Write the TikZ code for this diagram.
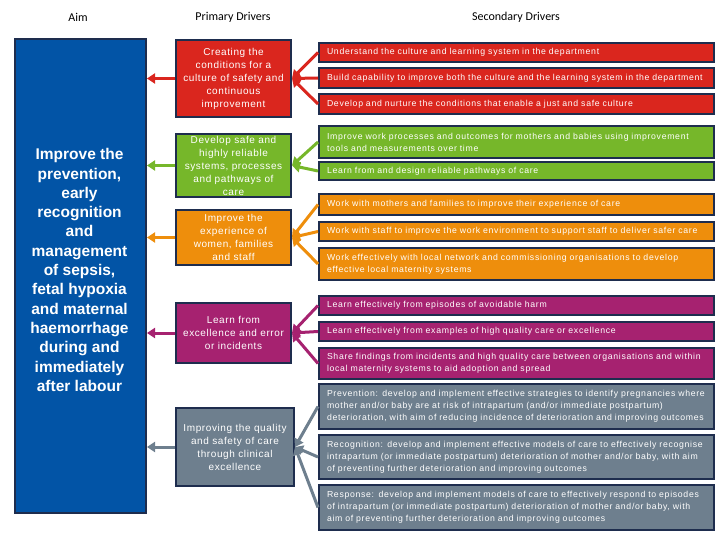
\documentclass[tikz,border=0pt]{standalone}
\usepackage{fontspec}
\setmainfont{Liberation Sans}
\newfontfamily\headfont{Carlito}
\newfontfamily\primfont[LetterSpace=6]{Liberation Sans}
\newfontfamily\secfont[LetterSpace=8]{Liberation Sans}
\usetikzlibrary{arrows.meta}

\definecolor{aimblue}{RGB}{2,84,166}
\definecolor{edgeblue}{RGB}{30,45,78}
\definecolor{drvred}{RGB}{218,38,30}
\definecolor{drvgreen}{RGB}{118,183,42}
\definecolor{drvorange}{RGB}{238,142,12}
\definecolor{drvpurple}{RGB}{166,34,112}
\definecolor{drvgrey}{RGB}{110,127,142}

\tikzset{
  head/.style = {font=\headfont\fontsize{12}{14}\selectfont},
  prim/.style = {draw=edgeblue, line width=2pt, fill=#1, text=white,
                 anchor=north west, align=center, inner sep=1pt,
                 minimum width=115pt,
                 font=\primfont\fontsize{10}{13}\selectfont},
  sec/.style  = {draw=edgeblue, line width=2pt, fill=#1, text=white,
                 anchor=north west, align=left, inner xsep=8pt, inner ysep=1pt,
                 text width=379pt,
                 font=\secfont\fontsize{8.7}{12}\selectfont},
  link/.style = {draw=#1, line width=3pt, -{Triangle[length=8pt,width=10pt]}}
}

\begin{document}
\begin{tikzpicture}[x=1pt, y=-1pt]
	\useasboundingbox (0,0) rectangle (720,540);
	\def \px{175} % primary drivers
	\def \sx{318} % secondary drivers

	% Headings
	\node[head] (hAim) at (78,17) {Aim};
	\node[head] (hPrim) at (233,17) {Primary Drivers};
	\node[head] (hSec) at (516,17) {Secondary Drivers};

	% Aim
	\node[draw=edgeblue, line width=2pt, fill=aimblue, anchor=north west,
	      minimum width=131pt, minimum height=474pt] (aim) at (14,38) {};
	\node[text=white, align=center, font=\bfseries\fontsize{15.5}{19.3}\selectfont]
	      (aimtxt) at (79.5,270) {Improve the\\prevention,\\early\\recognition\\and\\management\\of sepsis,\\fetal hypoxia\\and maternal\\haemorrhage\\during and\\immediately\\after labour};

	% Primary drivers
	\node[prim=drvred, minimum height=77pt] (p1) at (\px,39) {Creating the\\conditions for a\\culture of safety and\\continuous\\improvement};
	\node[prim=drvgreen, minimum height=63pt] (p2) at (\px,133) {Develop safe and\\highly reliable\\systems, processes\\and pathways of\\care};
	\node[prim=drvorange, minimum height=55pt] (p3) at (\px,209) {Improve the\\experience of\\women, families\\and staff};
	\node[prim=drvpurple, minimum height=60pt] (p4) at (\px,302) {Learn from\\excellence and error\\or incidents};
	\node[prim=drvgrey, minimum height=78pt, minimum width=118pt] (p5) at (\px,407) {Improving the quality\\and safety of care\\through clinical\\excellence};

	% Secondary drivers
	\node[sec=drvred, minimum height=19pt] (s11) at (\sx,42) {Understand the culture and learning system in the department};
	\node[sec=drvred, minimum height=20pt] (s12) at (\sx,67) {Build capability to improve both the culture and the learning system in the department};
	\node[sec=drvred, minimum height=20pt] (s13) at (\sx,93) {Develop and nurture the conditions that enable a just and safe culture};

	\node[sec=drvgreen, minimum height=32pt] (s21) at (\sx,125) {Improve work processes and outcomes for mothers and babies using improvement\\tools and measurements over time};
	\node[sec=drvgreen, minimum height=18pt] (s22) at (\sx,161) {Learn from and design reliable pathways of care};

	\node[sec=drvorange, minimum height=21pt] (s31) at (\sx,193) {Work with mothers and families to improve their experience of care};
	\node[sec=drvorange, minimum height=19pt] (s32) at (\sx,221) {Work with staff to improve the work environment to support staff to deliver safer care};
	\node[sec=drvorange, minimum height=32pt] (s33) at (\sx,247) {Work effectively with local network and commissioning organisations to develop\\effective local maternity systems};

	\node[sec=drvpurple, minimum height=19pt] (s41) at (\sx,295) {Learn effectively from episodes of avoidable harm};
	\node[sec=drvpurple, minimum height=19pt] (s42) at (\sx,321) {Learn effectively from examples of high quality care or excellence};
	\node[sec=drvpurple, minimum height=31pt] (s43) at (\sx,347) {Share findings from incidents and high quality care between organisations and within\\local maternity systems to aid adoption and spread};

	\node[sec=drvgrey, minimum height=45pt] (s51) at (\sx,383) {Prevention: develop and implement effective strategies to identify pregnancies where\\mother and/or baby are at risk of intrapartum (and/or immediate postpartum)\\deterioration, with aim of reducing incidence of deterioration and improving outcomes};
	\node[sec=drvgrey, minimum height=44pt] (s52) at (\sx,434) {Recognition: develop and implement effective models of care to effectively recognise\\intrapartum (or immediate postpartum) deterioration of mother and/or baby, with aim\\of preventing further deterioration and improving outcomes};
	\node[sec=drvgrey, minimum height=45pt] (s53) at (\sx,484) {Response: develop and implement models of care to effectively respond to episodes\\of intrapartum (or immediate postpartum) deterioration of mother and/or baby, with\\aim of preventing further deterioration and improving outcomes};

	% Secondary -> primary
	\draw[link=drvred] (s11.west) -- (p1.east);
	\draw[link=drvred] (s12.west) -- (p1.east);
	\draw[link=drvred] (s13.west) -- (p1.east);
	\draw[link=drvgreen] (s21.west) -- (p2.east);
	\draw[link=drvgreen] (s22.west) -- (p2.east);
	\draw[link=drvorange] (s31.west) -- (p3.east);
	\draw[link=drvorange] (s32.west) -- (p3.east);
	\draw[link=drvorange] (s33.west) -- (p3.east);
	\draw[link=drvpurple] (s41.west) -- (p4.east);
	\draw[link=drvpurple] (s42.west) -- (p4.east);
	\draw[link=drvpurple] (s43.west) -- (p4.east);
	\draw[link=drvgrey] (s51.west) -- (p5.east);
	\draw[link=drvgrey] (s52.west) -- (p5.east);
	\draw[link=drvgrey] (s53.west) -- (p5.east);

	% Primary -> aim
	\draw[link=drvred] (p1.west) -- (p1.west -| aim.east);
	\draw[link=drvgreen] (p2.west) -- (p2.west -| aim.east);
	\draw[link=drvorange] (p3.west) -- (p3.west -| aim.east);
	\draw[link=drvpurple] (p4.west) -- (p4.west -| aim.east);
	\draw[link=drvgrey] (p5.west) -- (p5.west -| aim.east);
\end{tikzpicture}
\end{document}
